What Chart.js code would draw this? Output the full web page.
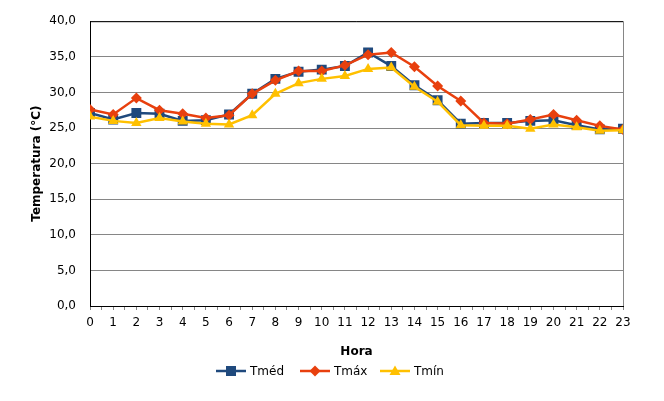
<!DOCTYPE html>
<html>
<head>
<meta charset="utf-8">
<script src="https://cdn.jsdelivr.net/npm/chart.js@4/dist/chart.umd.min.js"></script>
<style>
  body { margin: 0; background: #fff; }
  #wrap { position: relative; width: 664px; height: 401px; }
  #legend { position: absolute; left: 0; top: 362px; width: 664px; height: 18px;
            font: 12px "DejaVu Sans", sans-serif; color: #000; }
  .item { position: absolute; top: 0; height: 18px; line-height: 18px; white-space: nowrap; }
  .item svg { position: absolute; left: 0; top: 0; }
  .item span { position: absolute; left: 34px; top: 0; }
</style>
</head>
<body>
<div id="wrap">
  <canvas id="temp" width="664" height="401"></canvas>
  <div id="legend"></div>
</div>
<script>
var hours = [0,1,2,3,4,5,6,7,8,9,10,11,12,13,14,15,16,17,18,19,20,21,22,23]
var tmed = [27.1,26.2,27.1,27.0,26.0,26.1,26.9,29.8,31.9,32.9,33.2,33.7,35.6,33.7,31.0,28.9,25.6,25.7,25.7,26.0,26.1,25.4,24.8,24.9]
var tmax = [27.6,26.9,29.2,27.5,27.0,26.4,26.8,29.8,31.7,33.0,33.0,33.8,35.3,35.6,33.6,30.9,28.8,25.7,25.6,26.2,26.9,26.1,25.3,24.8]
var tmin = [26.6,26.0,25.7,26.4,25.9,25.6,25.5,26.8,29.8,31.3,31.9,32.3,33.3,33.5,30.8,28.7,25.4,25.3,25.3,24.9,25.5,25.1,24.6,24.7]
var seriesNames = ['Tméd', 'Tmáx', 'Tmín']
var colors = ['#1F497D', '#E8400E', '#FFC000']
var markers = ['rect', 'rectRot', 'triangle']
var radii = [7, 5.5, 6]

function pts(vals) {
  return vals.map(function (v, i) { return {x: hours[i], y: v} })
}

var frame = {
  id: 'frame',
  beforeDatasetsDraw: function (chart) {
    var a = chart.chartArea, c = chart.ctx
    c.save()
    c.lineWidth = 1
    c.strokeStyle = '#868686'
    c.beginPath(); c.moveTo(a.right + 0.5, a.top); c.lineTo(a.right + 0.5, a.bottom); c.stroke()
    c.strokeStyle = '#000'
    c.beginPath(); c.moveTo(a.left, a.top + 0.5); c.lineTo(a.right, a.top + 0.5); c.stroke()
    c.restore()
  }
}

var font = {family: '"DejaVu Sans", sans-serif', size: 12}
var ctx = document.getElementById('temp').getContext('2d')

new Chart(ctx, {
  type: 'line',
  data: {
    datasets: [tmed, tmax, tmin].map(function (vals, i) {
      return {
        label: seriesNames[i],
        data: pts(vals),
        borderColor: colors[i],
        backgroundColor: colors[i],
        borderWidth: 2.5,
        pointStyle: markers[i],
        pointRadius: radii[i],
        pointBorderWidth: 0,
        tension: 0,
        order: 2 - i
      }
    })
  },
  options: {
    responsive: false,
    animation: false,
    layout: {padding: {left: 30, top: 21, right: 41, bottom: 35}},
    plugins: {
      legend: {display: false},
      tooltip: {enabled: false}
    },
    scales: {
      x: {
        type: 'linear',
        min: 0, max: 23,
        afterFit: function (s) { s.height = 60 },
        ticks: {
          stepSize: 0.5, autoSkip: false, maxRotation: 0, minRotation: 0,
          color: '#000', font: font, padding: 6,
          callback: function (v) { return Number.isInteger(v) ? String(v) : '' }
        },
        grid: {drawOnChartArea: false, drawTicks: true, tickLength: 4, color: '#868686'},
        border: {color: '#000', width: 1},
        title: {display: true, text: 'Hora', color: '#000',
                font: {family: font.family, size: 12, weight: 'bold'}, padding: {top: 4, bottom: 7}}
      },
      y: {
        min: 0, max: 40,
        afterFit: function (s) { s.width = 60 },
        ticks: {
          stepSize: 5, color: '#000', font: font, padding: 14,
          callback: function (v) { return v.toFixed(1).replace('.', ',') }
        },
        grid: {color: '#868686', drawTicks: false},
        border: {color: '#000', width: 1},
        title: {display: true, text: 'Temperatura (°C)', color: '#000',
                font: {family: font.family, size: 12, weight: 'bold'}, padding: 0}
      }
    }
  },
  plugins: [frame]
})

// legend: line with marker, as in the original
var legendX = [216, 300, 380]
var leg = document.getElementById('legend')
seriesNames.forEach(function (name, i) {
  var d = document.createElement('div')
  d.className = 'item'
  d.style.left = legendX[i] + 'px'
  var m
  if (i === 0) m = '<rect x="10" y="4" width="10" height="10" fill="' + colors[i] + '"/>'
  else if (i === 1) m = '<polygon points="15,3.5 20.5,9 15,14.5 9.5,9" fill="' + colors[i] + '"/>'
  else m = '<polygon points="15,3.5 20.5,13 9.5,13" fill="' + colors[i] + '"/>'
  d.innerHTML = '<svg width="30" height="18"><line x1="0" y1="9" x2="30" y2="9" stroke="' + colors[i] +
    '" stroke-width="2.5"/>' + m + '</svg><span>' + name + '</span>'
  leg.appendChild(d)
})
</script>
</body>
</html>
